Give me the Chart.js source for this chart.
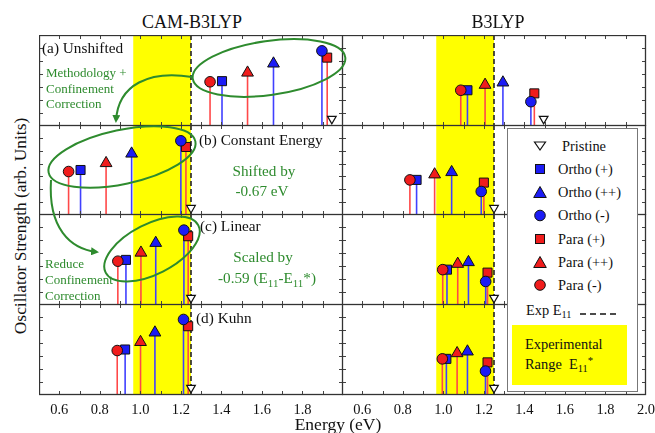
<!DOCTYPE html>
<html>
<head>
<meta charset="utf-8">
<script src="https://cdn.jsdelivr.net/npm/chart.js@4/dist/chart.umd.min.js"></script>
<style>
  body { margin: 0; width: 655px; height: 433px; position: relative; overflow: hidden; background: #fff; font-family: "Liberation Serif", "Times New Roman", serif; }
  canvas { position: absolute; }
  .t { position: absolute; white-space: nowrap; line-height: 1; color: #111; }
  .c { transform: translate(-50%, -50%); }
  .l { transform: translateY(-50%); }
  .g { color: #2e8b2e; }
  sub { font-size: 0.72em; vertical-align: -0.3em; line-height: 0; }
  #legend { position: absolute; left: 507px; top: 128px; width: 129px; height: 262px; background: #fff; border: 1px solid #777; z-index: 5; }
  #overlay { position: absolute; left: 0; top: 0; z-index: 6; pointer-events: none; }
</style>
</head>
<body>

<script>
// series order used in every array below
const series = ["Ortho (+)", "Ortho (++)", "Ortho (-)", "Para (+)", "Para (++)", "Para (-)"];

// excitation energies (eV), one row per panel (a)-(d)
const camEnergy = [
  [1.403, 1.657, 1.896, 1.922, 1.529, 1.344],
  [0.705, 0.957, 1.200, 1.225, 0.831, 0.646],
  [0.929, 1.076, 1.215, 1.236, 1.003, 0.889],
  [0.925, 1.072, 1.213, 1.236, 1.001, 0.886]
];
const camStrength = [
  [3.45, 4.80, 5.78, 5.26, 4.10, 3.40],
  [3.50, 4.77, 5.77, 5.29, 4.03, 3.38],
  [3.47, 4.77, 5.76, 5.29, 4.02, 3.37],
  [3.50, 4.80, 5.81, 5.29, 4.07, 3.42]
];
const b3Energy = [
  [1.119, 1.294, 1.432, 1.449, 1.206, 1.086],
  [0.868, 1.041, 1.187, 1.200, 0.957, 0.835],
  [1.018, 1.124, 1.209, 1.218, 1.071, 0.997],
  [1.015, 1.119, 1.208, 1.218, 1.068, 0.995]
];
const b3Strength = [
  [2.75, 3.34, 1.87, 2.51, 3.16, 2.75],
  [2.73, 3.33, 1.83, 2.52, 3.15, 2.73],
  [2.72, 3.29, 1.81, 2.49, 3.16, 2.72],
  [2.78, 3.34, 1.84, 2.51, 3.21, 2.78]
];
// pristine tube (drawn as a small marker near the axis)
const camPristine = [1.945, 1.25, 1.25, 1.25];
const b3Pristine = [1.495, 1.25, 1.25, 1.25];
const pristineLevel = 0.55;

const expE11 = 1.25;
const expRange = [0.965, 1.25];
const energyTicks = [0.6, 0.8, 1.0, 1.2, 1.4, 1.6, 1.8, 2.0];

const markerColors = ["#1c1cf5", "#1c1cf5", "#1c1cf5", "#f01c1c", "#f01c1c", "#f01c1c"];
const stemColors = ["#4040ff", "#4040ff", "#4040ff", "#ff4848", "#ff4848", "#ff4848"];
const shapes = ["rect", "triangle", "circle", "rect", "triangle", "circle"];
const radii = [6.4, 6.8, 5.3, 6.4, 6.8, 5.3];
const drawOrder = [3, 4, 1, 2, 4, 1];

const rowTop = [35, 125, 214, 304, 394];
const colLeft = [39, 342];
const areaW = 304;

const panelPlugin = {
  id: "panel",
  beforeDatasetsDraw(chart) {
    const { ctx, chartArea: a, scales: { x } } = chart;
    ctx.save();
    const x0 = x.getPixelForValue(expRange[0]);
    const x1 = x.getPixelForValue(expRange[1]);
    ctx.fillStyle = "#ffff00";
    ctx.fillRect(x0, a.top, x1 - x0, a.bottom - a.top);
    const xe = x.getPixelForValue(expE11);
    ctx.strokeStyle = "#222";
    ctx.lineWidth = 1.6;
    ctx.setLineDash([5, 3]);
    ctx.beginPath();
    ctx.moveTo(xe, a.top);
    ctx.lineTo(xe, a.bottom);
    ctx.stroke();
    ctx.restore();
  },
  afterDraw(chart, args, opts) {
    const { ctx, chartArea: a, scales: { x, y } } = chart;
    ctx.save();
    ctx.strokeStyle = "#444";
    ctx.lineWidth = 1;
    // inward ticks
    ctx.beginPath();
    for (let k = 6; k <= 19; k++) {
      const px = Math.round(x.getPixelForValue(k / 10)) + 0.5;
      ctx.moveTo(px, a.top); ctx.lineTo(px, a.top + 4);
      ctx.moveTo(px, a.bottom); ctx.lineTo(px, a.bottom - 4);
    }
    for (let v = 1; v < 7; v++) {
      const py = Math.round(y.getPixelForValue(v)) + 0.5;
      ctx.moveTo(a.left, py); ctx.lineTo(a.left + 4, py);
      ctx.moveTo(a.right, py); ctx.lineTo(a.right - 4, py);
    }
    ctx.stroke();
    ctx.lineWidth = 1.3;
    ctx.strokeStyle = "#333";
    ctx.strokeRect(a.left + 0.5, a.top + 0.5, a.right - a.left - 1, a.bottom - a.top - 1);
    if (opts.bottom) {
      ctx.fillStyle = "#111";
      ctx.font = "14.5px 'Liberation Serif'";
      ctx.textAlign = "center";
      ctx.textBaseline = "middle";
      energyTicks.forEach(v => {
        if (opts.col === 0 && v >= 2.0) return;
        ctx.fillText(v.toFixed(1), x.getPixelForValue(v), a.bottom + 15);
      });
    }
    ctx.restore();
  }
};

function makePanel(col, row) {
  const energy = col === 0 ? camEnergy[row] : b3Energy[row];
  const strength = col === 0 ? camStrength[row] : b3Strength[row];
  const pristine = col === 0 ? camPristine[row] : b3Pristine[row];
  const bottom = row === 3;
  const padR = col === 1 ? 14 : 0;
  const padB = bottom ? 40 : 0;

  const canvas = document.createElement("canvas");
  canvas.width = areaW + padR;
  canvas.height = rowTop[row + 1] - rowTop[row] + 1 + padB;
  canvas.style.left = colLeft[col] + "px";
  canvas.style.top = rowTop[row] + "px";
  document.body.appendChild(canvas);

  const datasets = [];
  series.forEach((name, i) => {
    datasets.push({
      type: "line",
      data: [{ x: energy[i], y: 0 }, { x: energy[i], y: strength[i] }],
      borderColor: stemColors[i],
      borderWidth: 1.6,
      pointRadius: 0,
      order: 10,
      clip: false
    });
    datasets.push({
      type: "scatter",
      label: name,
      data: [{ x: energy[i], y: strength[i] }],
      pointStyle: shapes[i],
      pointRadius: radii[i],
      backgroundColor: markerColors[i],
      borderColor: "#111",
      borderWidth: 1,
      order: drawOrder[i],
      clip: false
    });
  });
  datasets.push({
    type: "scatter",
    label: "Pristine",
    data: [{ x: pristine, y: pristineLevel }],
    pointStyle: "triangle",
    pointRotation: 180,
    pointRadius: 5,
    backgroundColor: "#fff",
    borderColor: "#111",
    borderWidth: 1.2,
    order: 0,
    clip: false
  });

  new Chart(canvas.getContext("2d"), {
    type: "scatter",
    data: { datasets: datasets },
    options: {
      responsive: false,
      animation: false,
      events: [],
      layout: { autoPadding: false, padding: { left: 0, right: padR, top: 0, bottom: padB } },
      plugins: {
        legend: { display: false },
        tooltip: { enabled: false },
        panel: { bottom: bottom, col: col }
      },
      scales: {
        x: { type: "linear", min: 0.5, max: 2.0, display: false },
        y: { min: 0, max: 7, display: false }
      }
    },
    plugins: [panelPlugin]
  });
}

for (let col = 0; col < 2; col++) {
  for (let row = 0; row < 4; row++) {
    makePanel(col, row);
  }
}
</script>

<div class="t c" style="left:192px;top:22px;font-size:18px;">CAM-B3LYP</div>
<div class="t c" style="left:498px;top:22px;font-size:18px;">B3LYP</div>
<div class="t" style="left:21px;top:226px;font-size:17.4px;transform:translate(-50%,-50%) rotate(-90deg);">Oscillator Strength (arb. Units)</div>
<div class="t c" style="left:338px;top:425px;font-size:17.5px;">Energy (eV)</div>

<div class="t l" style="left:42px;top:48px;font-size:15.3px;">(a) Unshifted</div>
<div class="t l" style="left:199px;top:140px;font-size:15.3px;">(b) Constant Energy</div>
<div class="t l" style="left:200px;top:226px;font-size:15.3px;">(c) Linear</div>
<div class="t l" style="left:196px;top:318px;font-size:15.3px;">(d) Kuhn</div>

<div class="t l g" style="left:46px;top:72px;font-size:13px;">Methodology +</div>
<div class="t l g" style="left:46px;top:88px;font-size:13px;">Confinement</div>
<div class="t l g" style="left:46px;top:103px;font-size:13px;">Correction</div>
<div class="t l g" style="left:45px;top:263px;font-size:13px;">Reduce</div>
<div class="t l g" style="left:45px;top:279px;font-size:13px;">Confinement</div>
<div class="t l g" style="left:45px;top:295px;font-size:13px;">Correction</div>
<div class="t c g" style="left:264px;top:171px;font-size:15.2px;">Shifted by</div>
<div class="t c g" style="left:262px;top:191px;font-size:15.2px;">-0.67 eV</div>
<div class="t c g" style="left:263px;top:257px;font-size:15.2px;">Scaled by</div>
<div class="t c g" style="left:267px;top:278px;font-size:15.2px;">-0.59 (E<sub>11</sub>-E<sub>11</sub>*)</div>

<div id="legend">
  <svg width="129" height="262" style="position:absolute;left:0;top:0">
    <polygon points="26.5,13 37.5,13 32,21" fill="#fff" stroke="#111" stroke-width="1.2"/>
    <rect x="27.5" y="35.5" width="9" height="9" fill="#1c1cf5" stroke="#111"/>
    <polygon points="32,57.5 38.3,68.5 25.7,68.5" fill="#1c1cf5" stroke="#111"/>
    <circle cx="32" cy="86.5" r="5.3" fill="#1c1cf5" stroke="#111"/>
    <rect x="27.5" y="105.5" width="9" height="9" fill="#f01c1c" stroke="#111"/>
    <polygon points="32,127.5 38.3,138.5 25.7,138.5" fill="#f01c1c" stroke="#111"/>
    <circle cx="32" cy="156" r="5.3" fill="#f01c1c" stroke="#111"/>
    <line x1="72" y1="185" x2="112" y2="185" stroke="#111" stroke-width="1.5" stroke-dasharray="6,4"/>
  </svg>
  <div class="t l" style="left:54px;top:17px;font-size:14.4px;">Pristine</div>
  <div class="t l" style="left:50px;top:40px;font-size:14.4px;">Ortho (+)</div>
  <div class="t l" style="left:50px;top:63px;font-size:14.4px;">Ortho (++)</div>
  <div class="t l" style="left:50px;top:86px;font-size:14.4px;">Ortho (-)</div>
  <div class="t l" style="left:50px;top:110px;font-size:14.4px;">Para (+)</div>
  <div class="t l" style="left:50px;top:133px;font-size:14.4px;">Para (++)</div>
  <div class="t l" style="left:50px;top:156px;font-size:14.4px;">Para (-)</div>
  <div class="t l" style="left:18px;top:181px;font-size:14.4px;">Exp E<sub>11</sub></div>
  <div style="position:absolute;left:4px;top:196px;width:115px;height:60px;background:#ffff00;"></div>
  <div class="t l" style="left:17px;top:215px;font-size:14.4px;">Experimental</div>
  <div class="t l" style="left:17px;top:235px;font-size:14.4px;">Range&nbsp; E<sub>11</sub><sup style="font-size:0.75em;vertical-align:0.4em;line-height:0">*</sup></div>
</div>

<svg id="overlay" width="655" height="433">
  <defs>
    <marker id="ah" markerWidth="8" markerHeight="8" refX="6" refY="4" orient="auto" markerUnits="userSpaceOnUse">
      <path d="M0,0 L8,4 L0,8 Z" fill="#2e8b2e"/>
    </marker>
  </defs>
  <g fill="none" stroke="#2e8b2e" stroke-width="2">
    <ellipse cx="269" cy="68" rx="77" ry="27" transform="rotate(-8 269 68)"/>
    <ellipse cx="122" cy="157" rx="75" ry="27" transform="rotate(-12 122 157)"/>
    <ellipse cx="152" cy="249" rx="52" ry="25" transform="rotate(-27 152 249)"/>
    <path d="M192,77 C150,70 118,84 116,121" marker-end="url(#ah)"/>
    <path d="M51,180 C48,228 70,249 97,252" marker-end="url(#ah)"/>
  </g>
</svg>

</body>
</html>
